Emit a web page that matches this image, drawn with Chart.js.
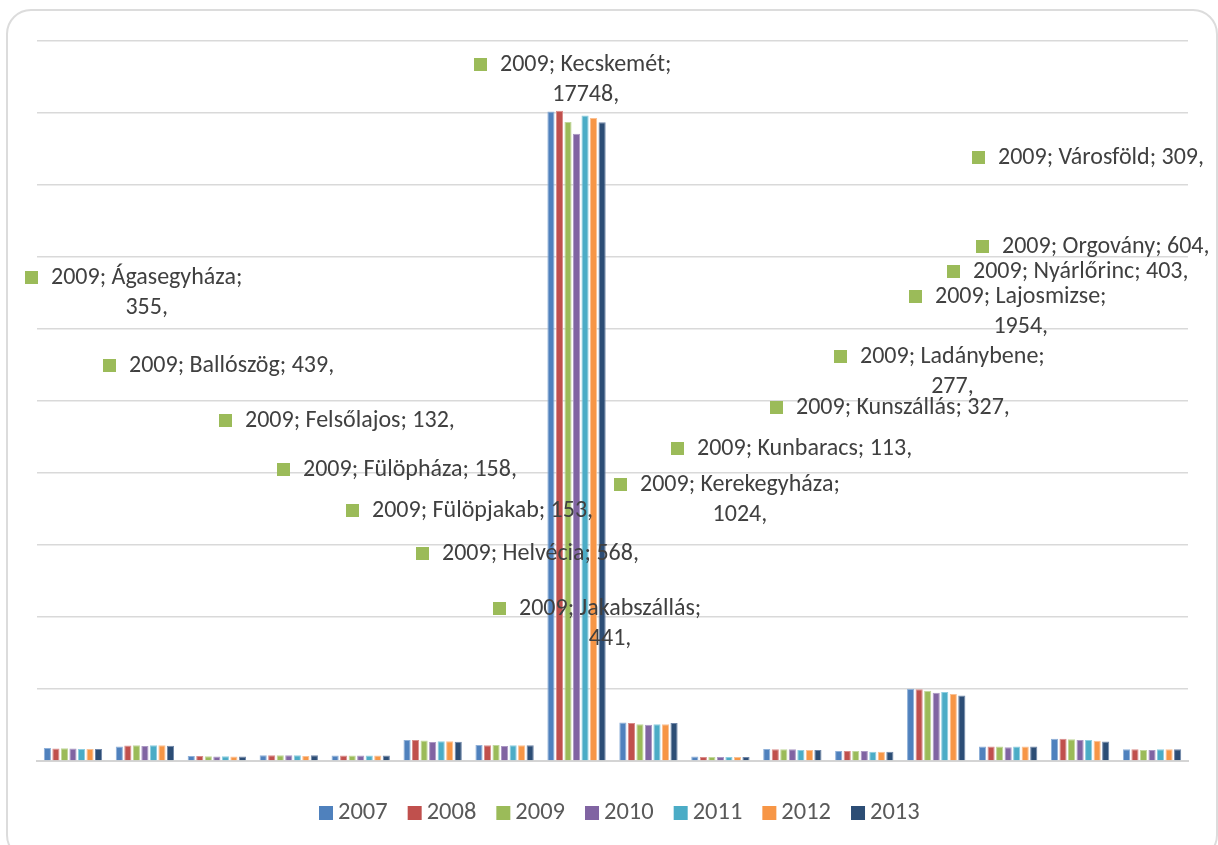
<!DOCTYPE html>
<html><head><meta charset="utf-8">
<script src="https://cdn.jsdelivr.net/npm/chart.js@4/dist/chart.umd.min.js"></script>
<style>
html,body{margin:0;padding:0;background:#fff;overflow:hidden;width:1218px;height:845px}
#frame{position:absolute;left:6px;top:9px;width:1212px;height:851px;border:2px solid #dcdcdc;border-radius:25px;box-sizing:border-box}
#wrap{position:absolute;left:0;top:0;width:1218px;height:845px}
</style></head><body>
<div id="frame"></div>
<div id="wrap"><canvas id="c" width="1218" height="845"></canvas></div>
<script>
const categories = ['Ágasegyháza','Ballószög','Felsőlajos','Fülöpháza','Fülöpjakab','Helvécia','Jakabszállás','Kecskemét','Kerekegyháza','Kunbaracs','Kunszállás','Ladánybene','Lajosmizse','Nyárlőrinc','Orgovány','Városföld'];
const years = ['2007','2008','2009','2010','2011','2012','2013'];
const v2007 = [360, 400, 140, 160, 155, 585, 445, 18045, 1072, 125, 335, 280, 2010, 405, 620, 325];
const v2008 = [350, 430, 140, 160, 150, 585, 440, 18062, 1053, 110, 327, 280, 1990, 405, 620, 325];
const v2009 = [355, 439, 132, 158, 153, 568, 441, 17748, 1024, 113, 327, 277, 1954, 403, 604, 309];
const v2010 = [350, 420, 125, 160, 150, 527, 420, 17424, 1006, 110, 327, 280, 1897, 385, 585, 309];
const v2011 = [330, 440, 130, 160, 150, 547, 440, 17934, 1024, 110, 305, 260, 1915, 405, 585, 325];
const v2012 = [330, 440, 125, 140, 150, 547, 440, 17859, 1024, 110, 305, 260, 1858, 405, 565, 325];
const v2013 = [330, 425, 125, 160, 155, 538, 440, 17740, 1053, 110, 305, 260, 1822, 405, 545, 325];
const seriesValues = [v2007, v2008, v2009, v2010, v2011, v2012, v2013];
const yMin = 0, yMax = 20000, yStep = 2000;

// styling / layout (kept apart from data)
const colors = ['#4F81BD','#C0504D','#9BBB59','#8064A2','#4BACC6','#F79646','#2C4D75'];
const edgeColors = ['#8fb0d8','#d98c8a','#c0d79a','#ab98c4','#8dcde0','#fac092','#6f86a8'];
const FONT = 'Carlito, Calibri, Lato, sans-serif';
// dragged data-label boxes of the 2009 series: key left x, first line centre y, wrapped?
const labelLayout = [
  {x:25, y:278, wrap:true},
  {x:103, y:366, wrap:false},
  {x:219, y:421, wrap:false},
  {x:277, y:470, wrap:false},
  {x:346, y:511, wrap:false},
  {x:416, y:554, wrap:false},
  {x:493, y:609, wrap:true},
  {x:474, y:65, wrap:true},
  {x:614, y:485, wrap:true},
  {x:671, y:449, wrap:false},
  {x:770, y:408, wrap:false},
  {x:834, y:357, wrap:true},
  {x:909, y:297, wrap:true},
  {x:947, y:272, wrap:false},
  {x:976, y:247, wrap:false},
  {x:972, y:158, wrap:false}
];

// size the font so text widths match the reference
const mctx = document.createElement('canvas').getContext('2d');
mctx.font = '24px ' + FONT;
const refW = mctx.measureText('2009; Városföld; 309,').width;
const fontSize = Math.round(24 * 206 / refW * 10) / 10;
const lineH = 29.5;

const labelPlugin = {
  id: 'excelLabels',
  afterDatasetsDraw(chart) {
    const ctx = chart.ctx;
    ctx.save();
    ctx.font = fontSize + 'px ' + FONT;
    ctx.textBaseline = 'middle';
    labelLayout.forEach((L, i) => {
      const val = v2009[i];
      ctx.fillStyle = colors[2];
      ctx.fillRect(L.x, L.y - 7, 13, 13);
      ctx.fillStyle = '#404040';
      const tx = L.x + 26;
      if (L.wrap) {
        const l1 = years[2] + '; ' + categories[i] + ';';
        const l2 = String(val) + ',';
        ctx.textAlign = 'left';
        ctx.fillText(l1, tx, L.y);
        const w = ctx.measureText(l1).width;
        ctx.textAlign = 'center';
        ctx.fillText(l2, tx + w / 2, L.y + lineH);
      } else {
        ctx.textAlign = 'left';
        ctx.fillText(years[2] + '; ' + categories[i] + '; ' + val + ',', tx, L.y);
      }
    });
    // legend
    ctx.font = (fontSize + 0.5) + 'px ' + FONT;
    ctx.textAlign = 'left';
    let x = 319;
    const ly = 813;
    years.forEach((yr, k) => {
      ctx.fillStyle = colors[k];
      ctx.fillRect(x, ly - 7, 14, 14);
      ctx.fillStyle = '#595959';
      ctx.fillText(yr, x + 19, ly);
      x += 19 + ctx.measureText(yr).width + 20;
    });
    ctx.restore();
  }
};

new Chart(document.getElementById('c'), {
  type: 'bar',
  data: {
    labels: categories,
    datasets: years.map((yr, k) => ({
      label: yr,
      data: seriesValues[k],
      backgroundColor: colors[k],
      borderColor: edgeColors[k],
      borderWidth: 1,
      categoryPercentage: 0.83,
      barPercentage: 0.84
    }))
  },
  options: {
    responsive: false,
    devicePixelRatio: 1,
    animation: false,
    layout: { padding: { left: 37, right: 30, top: 41, bottom: 84 } },
    plugins: { legend: { display: false }, tooltip: { enabled: false } },
    scales: {
      x: {
        grid: { display: false, drawTicks: false },
        ticks: { display: false },
        border: { display: true, color: '#d4d4d4', width: 2 },
        afterFit(s) { s.height = 0; }
      },
      y: {
        min: yMin, max: yMax,
        ticks: { display: false, stepSize: yStep },
        grid: { color: '#d9d9d9', lineWidth: 1.5, drawTicks: false },
        border: { display: false },
        afterFit(s) { s.width = 0; }
      }
    }
  },
  plugins: [labelPlugin]
});
</script>
</body></html>
